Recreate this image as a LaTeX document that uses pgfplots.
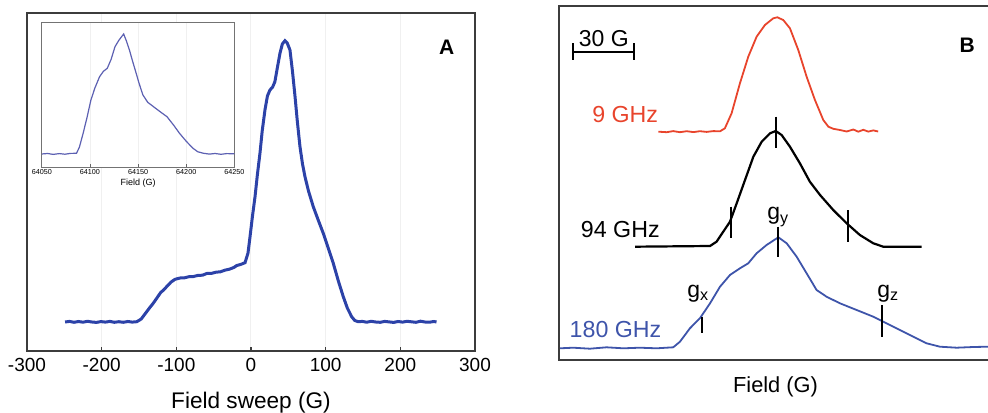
\documentclass[border=0pt]{standalone}
\usepackage{fontspec}
\setmainfont{Liberation Sans}
\usepackage{pgfplots}
\pgfplotsset{compat=1.18}
\definecolor{cA}{RGB}{44,66,168}
\definecolor{cIn}{RGB}{92,96,178}
\definecolor{cRed}{RGB}{232,68,44}
\definecolor{cBlue}{RGB}{62,84,170}
\definecolor{frame}{RGB}{60,60,60}
\begin{document}
\begin{tikzpicture}
\useasboundingbox (0,0) rectangle (494pt,206pt);
% panel A
\begin{axis}[
  at={(13.5pt,30.5pt)}, anchor=south west,
  scale only axis, width=224pt, height=169pt,
  xmin=-300, xmax=300, ymin=0, ymax=338,
  xtick={-300,-200,...,300}, ytick=\empty,
  xtick pos=bottom, tick align=inside, major tick length=2.2pt,
  tick style={frame, line width=0.8pt},
  axis line style={frame, line width=1pt},
  xmajorgrids, grid style={black!6, line width=0.5pt},
  /pgf/number format/assume math mode=true,
  ticklabel style={font=\fontsize{9.5}{10}\selectfont},
  xlabel={Field sweep (G)},
  xlabel style={font=\fontsize{11.3}{13}\selectfont, yshift=-3.5pt},
]
\addplot[cA, line width=1.5pt] coordinates {
(-249,29) (-243,29.6) (-237,28.7) (-231,29.5) (-225,28.8) (-219,29.7) (-213,29)
(-207,28.6) (-201,29.4) (-195,28.9) (-189,29.6) (-183,28.7) (-177,29.3) (-171,28.7)
(-165,29.5) (-159,28.9) (-153,29.3) (-147,32) (-141,38) (-136,43) (-131,47.7)
(-126,53) (-121,58.5) (-117,61) (-113,64.3) (-107,69) (-101.7,71.7) (-95,73)
(-89,73.2) (-83,74.3) (-77,74.5) (-71,75.6) (-65,75.8) (-59.3,77.5) (-53,77.6)
(-47,78.8) (-41,79.2) (-35,80.8) (-29,81.8) (-23,83.5) (-19,85.5) (-14,86.5) (-8,88.3)
(-4,98) (-1.3,114.3) (2,135) (5.4,154.3) (8.5,176) (12,197.7) (15,220) (18.7,241)
(22,255) (25.4,261) (29,264) (32,269.3) (35,282) (38.8,297.7) (42,307) (45.5,310.3)
(48.5,308) (52.2,301) (55.5,280) (59,254.3) (62,230) (65.6,204.3) (69,187)
(72.3,174.3) (77,160) (83.4,144.3) (90,131) (96.8,117.7) (103,104) (110.2,87.7)
(117,70) (123.6,54.3) (129,43) (134.8,34.3) (139,30.5) (143.7,29.3) (149,29.6)
(155,28.8) (161,29.7) (167,29) (173,28.7) (179,29.6) (185,29.1) (191,28.6)
(197,29.5) (203,28.9) (209,29.7) (215,29.2) (221,28.7) (227,29.8) (233,29)
(239,28.8) (245,29.5) (248.5,29)
};
\node[font=\bfseries\fontsize{10.5}{12}\selectfont] at (axis cs:262,304) {A};
\end{axis}
% inset
\begin{axis}[
  at={(20.9pt,122.35pt)}, anchor=south west,
  scale only axis, width=96.3pt, height=72.3pt,
  xmin=64050, xmax=64250, ymin=0, ymax=144.6,
  xtick={64050,64100,...,64250}, ytick=\empty,
  scaled x ticks=false,
  /pgf/number format/1000 sep={},
  /pgf/number format/assume math mode=true,
  xtick pos=bottom, tick align=inside, major tick length=1.5pt,
  tick style={black!60, line width=0.4pt},
  axis line style={black!55, line width=0.5pt},
  axis background/.style={fill=white},
  xmajorgrids, grid style={black!6, line width=0.4pt},
  ticklabel style={font=\fontsize{3.6}{4}\selectfont, inner sep=1pt},
  xlabel={Field (G)},
  xlabel style={font=\fontsize{4.5}{5}\selectfont, inner sep=1pt},
]
\addplot[cIn, line width=0.6pt] coordinates {
(64050,13.3) (64056,13.8) (64062,12.9) (64068,13.7) (64074,13.1) (64080,13.9)
(64086,14) (64089,20) (64093,34.3) (64097,50) (64101,67.3) (64105,79)
(64110,90.6) (64114,96) (64118,99) (64122,108) (64126,120.6) (64130,127)
(64135,133.3) (64138,126) (64141,117.3) (64144,107) (64148,94) (64151,84)
(64155,72.3) (64160,65) (64166,60.6) (64173,55.5) (64180,50.6) (64187,42)
(64193,34) (64200,26) (64207,19) (64212,15.5) (64218,14) (64224,13.2) (64230,13.8)
(64236,13) (64242,13.7) (64250,13.5)
};
\end{axis}
% panel B
\begin{axis}[
  at={(279.5pt,26pt)}, anchor=south west,
  scale only axis, width=216.5pt, height=177pt,
  xmin=0, xmax=213, ymin=0, ymax=354,
  xtick=\empty, ytick=\empty,
  axis line style={frame, line width=1pt},
  xlabel={Field (G)},
  xlabel style={font=\fontsize{10.9}{12}\selectfont, yshift=-5pt},
  clip=false,
]
% 9 GHz
\addplot[cRed, line width=0.9pt] coordinates {
(48.9,228.3) (53.0,227.8) (56.2,228.9) (59.5,227.8) (62.8,228.8) (66.1,227.9)
(69.3,228.8) (72.6,228.1) (75.9,228.9) (79.2,228.7) (81.6,231.7) (84.9,246.7)
(89.0,276.7) (93.1,303.3) (97.2,323.3) (101.3,335) (105.4,341.7) (107.4,342.7)
(110.3,340) (113.6,331.7) (117.7,310) (121.8,283.3) (125.9,260) (130.0,240)
(132.5,233.3) (134.9,231.2) (138.2,230) (141.5,228.5) (144.8,230.5) (147.2,228.3)
(149.7,230.2) (152.1,228.4) (154.6,229.6) (157.0,228.5)
};
% 94 GHz
\addplot[black, line width=1.1pt] coordinates {
(37.4,113.3) (74.3,114) (77.5,118.3) (80.8,128.3) (84.1,138.3) (87.4,156.7)
(91.5,180) (95.6,203.3) (99.7,218.3) (103.8,226.7) (106.6,229) (109.5,225)
(113.6,213.3) (118.5,196.7) (123.4,178.3) (128.4,165) (134.9,150) (141.5,136.7)
(148.0,125) (154.6,116.7) (159.5,113.3) (178.4,113.3)
};
% 180 GHz
\addplot[cBlue, line width=0.9pt] coordinates {
(0.5,11.7) (7.0,12.3) (15.2,11.3) (23.4,12.7) (31.6,11.7) (39.8,12.3) (48.0,11.7)
(56.2,12.7) (59.5,18.3) (64.4,31.7) (69.3,41.7) (74.3,56.7) (79.2,73.3) (84.1,85)
(89.0,91.7) (93.1,96.7) (97.2,106.7) (102.1,115) (107.9,122.7) (112.0,116.7)
(116.9,103.3) (121.8,86.7) (126.7,70) (131.6,63.3) (138.2,56.7) (146.4,50)
(154.6,43.3) (161.1,36.7) (167.7,30) (174.3,23.3) (180.8,16.7) (187.4,13.3)
(195.6,12.3) (203.8,13) (211.0,13.3)
};
% g markers
\addplot[black, line width=1pt, forget plot] coordinates {(106.6,243.3) (106.6,211.7)};
\addplot[black, line width=1pt, forget plot] coordinates {(84.4,153.3) (84.4,121.7)};
\addplot[black, line width=1pt, forget plot] coordinates {(142.3,150) (142.3,118.3)};
\addplot[black, line width=1pt, forget plot] coordinates {(70.5,43.3) (70.5,26.7)};
\addplot[black, line width=1pt, forget plot] coordinates {(107.9,133.3) (107.9,103.3)};
\addplot[black, line width=1pt, forget plot] coordinates {(158.7,55) (158.7,22.7)};
% scale bar
\addplot[black, line width=1pt, forget plot] coordinates {(7,308.3) (37,308.3)};
\addplot[black, line width=1pt, forget plot] coordinates {(7,316.7) (7,300)};
\addplot[black, line width=1pt, forget plot] coordinates {(37,316.7) (37,300)};
\node[font=\fontsize{11.5}{13}\selectfont] at (axis cs:22,321.5) {30 G};
\node[font=\fontsize{11.6}{13}\selectfont, text=cRed, anchor=east, inner sep=0pt] at (axis cs:48.9,245) {9 GHz};
\node[font=\fontsize{11.6}{13}\selectfont, anchor=east, inner sep=0pt] at (axis cs:49.7,130) {94 GHz};
\node[font=\fontsize{11.6}{13}\selectfont, text=cBlue, anchor=east, inner sep=0pt] at (axis cs:50.5,30) {180 GHz};
\node[font=\fontsize{11.5}{13}\selectfont] at (axis cs:68.5,66.7) {g\textsubscript{x}};
\node[font=\fontsize{11.5}{13}\selectfont] at (axis cs:107.9,143.3) {g\textsubscript{y}};
\node[font=\fontsize{11.5}{13}\selectfont] at (axis cs:162,66.7) {g\textsubscript{z}};
\node[font=\bfseries\fontsize{10.5}{12}\selectfont] at (axis cs:200.8,315) {B};
\end{axis}
\end{tikzpicture}
\end{document}
